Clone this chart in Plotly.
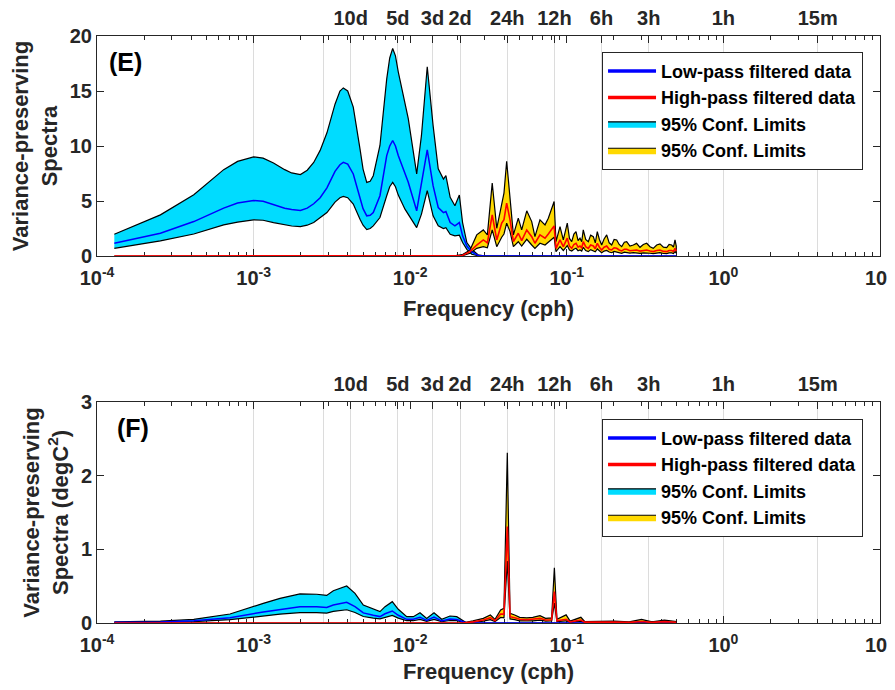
import plotly.graph_objects as go

# ---------------- Panel (E) ----------------
freq_lp_E = [1.29e-4, 2.54e-4, 4.15e-4, 6.44e-4, 7.9e-4, 1.0e-3, 1.15e-3, 1.34e-3, 1.58e-3, 1.75e-3,
             1.99e-3, 2.2e-3, 2.42e-3, 2.66e-3, 2.94e-3, 3.31e-3, 3.56e-3, 3.74e-3, 3.99e-3, 4.33e-3,
             4.78e-3, 5.0e-3, 5.28e-3, 5.55e-3, 5.81e-3, 6.41e-3, 7.08e-3, 7.4e-3, 7.73e-3, 8.05e-3,
             8.39e-3, 9.26e-3, 9.72e-3, 1.10e-2, 1.18e-2, 1.285e-2, 1.40e-2, 1.51e-2, 1.63e-2, 1.69e-2,
             1.80e-2, 1.93e-2, 2.06e-2, 2.16e-2, 2.30e-2, 2.47e-2, 2.72e-2, 3.0e-2, 0.5]
lp_up_E = [1.98, 3.74, 5.57, 7.85, 8.6, 9.01, 8.9, 8.46, 7.85, 7.55,
           7.40, 7.8, 8.50, 9.60, 11.2, 13.8, 15.0, 15.28, 15.0, 13.54,
           9.74, 7.9, 6.69, 6.8, 7.30, 10.05, 16.1, 18.0, 18.87, 18.2,
           16.74, 13.7, 12.48, 7.46, 10.96, 17.2, 11.87, 7.92, 7.00, 7.30,
           5.33, 4.57, 5.54, 3.04, 1.22, 0.61, 0.10, 0.0, 0.0]
lp_mid_E = [1.16, 2.07, 3.13, 4.35, 4.81, 5.05, 4.98, 4.66, 4.35, 4.22,
            4.14, 4.35, 4.75, 5.30, 6.20, 7.70, 8.3, 8.52, 8.35, 7.46,
            5.18, 4.3, 3.65, 3.7, 3.95, 5.48, 9.13, 10.0, 10.5, 10.0,
            9.13, 7.61, 6.70, 4.11, 6.70, 9.65, 6.39, 4.41, 3.95, 4.05,
            3.04, 2.74, 3.04, 1.83, 0.91, 0.37, 0.05, 0.0, 0.0]
lp_lo_E = [0.70, 1.37, 2.00, 2.83, 3.08, 3.29, 3.25, 3.04, 2.83, 2.73,
           2.68, 2.8, 3.05, 3.45, 3.95, 4.90, 5.3, 5.42, 5.3, 4.72,
           3.35, 2.8, 2.40, 2.5, 2.74, 3.50, 5.48, 6.3, 6.70, 6.3,
           5.54, 4.26, 3.81, 2.58, 3.81, 5.94, 3.65, 2.74, 2.49, 2.58,
           1.98, 1.83, 1.89, 1.22, 0.61, 0.16, 0.02, 0.0, 0.0]

freq_hp_E = [1.29e-4, 0.0185, 0.0215, 0.0241, 0.0266, 0.0293, 0.0311, 0.0334, 0.0357, 0.0384,
             0.0397, 0.0413, 0.0434, 0.0456, 0.0490, 0.0515, 0.0555, 0.0597, 0.0626, 0.0674,
             0.0726, 0.0762, 0.0830, 0.0853, 0.0905, 0.0950, 0.1007, 0.1040, 0.1075, 0.1110,
             0.1145, 0.1180, 0.1214, 0.1245, 0.1274, 0.1320, 0.1372, 0.1420, 0.1477, 0.1520,
             0.1566, 0.1615, 0.1670, 0.1730, 0.1798, 0.1865, 0.1935, 0.2005, 0.2083, 0.2160,
             0.2242, 0.2330, 0.2413, 0.2530, 0.2659, 0.2790, 0.2934, 0.3080, 0.3237, 0.3400,
             0.3566, 0.3750, 0.3936, 0.4140, 0.4344, 0.4500, 0.4675, 0.4800, 0.4908, 0.5]
hp_up_E = [0.0, 0.0, 0.12, 0.55, 1.92, 2.37, 1.92, 6.64, 2.52, 4.81,
           5.72, 8.61, 5.42, 1.92, 3.44, 2.37, 4.11, 3.13, 1.76, 3.29,
           2.83, 3.44, 4.96, 1.30, 2.68, 1.46, 2.99, 1.60, 1.30, 2.00,
           2.22, 1.40, 1.62, 1.30, 2.37, 1.50, 1.30, 1.90, 1.76, 1.20,
           2.22, 1.50, 1.00, 1.55, 1.92, 1.20, 1.00, 1.50, 1.46, 1.05,
           0.85, 1.25, 1.30, 0.90, 1.00, 1.15, 0.79, 1.05, 1.16, 0.85,
           0.70, 1.00, 1.10, 0.80, 0.76, 1.05, 1.00, 0.80, 1.46, 0.90]
hp_mid_E = [0.0, 0.0, 0.05, 0.40, 1.00, 1.46, 1.20, 3.74, 1.46, 2.99,
            3.30, 4.81, 3.29, 1.30, 2.07, 1.40, 2.37, 1.76, 1.16, 1.92,
            1.62, 2.00, 2.74, 0.70, 1.46, 0.85, 1.62, 0.90, 0.70, 1.05,
            1.16, 0.80, 0.90, 0.75, 1.30, 0.85, 0.70, 1.00, 0.91, 0.66,
            1.16, 0.80, 0.55, 0.80, 0.91, 0.62, 0.55, 0.75, 0.70, 0.55,
            0.46, 0.62, 0.61, 0.48, 0.55, 0.55, 0.45, 0.52, 0.55, 0.45,
            0.40, 0.50, 0.55, 0.42, 0.40, 0.50, 0.50, 0.42, 0.70, 0.45]
hp_lo_E = [0.0, 0.0, 0.02, 0.25, 0.70, 0.85, 0.75, 2.37, 0.85, 1.71,
           2.00, 2.99, 2.22, 0.85, 1.30, 0.90, 1.52, 1.00, 0.70, 1.16,
           1.00, 1.20, 1.71, 0.40, 0.85, 0.50, 0.95, 0.55, 0.46, 0.62,
           0.70, 0.48, 0.55, 0.45, 0.79, 0.50, 0.40, 0.58, 0.49, 0.38,
           0.64, 0.45, 0.30, 0.45, 0.50, 0.36, 0.30, 0.42, 0.40, 0.30,
           0.25, 0.35, 0.34, 0.27, 0.30, 0.30, 0.24, 0.29, 0.30, 0.25,
           0.21, 0.27, 0.30, 0.23, 0.22, 0.28, 0.28, 0.23, 0.40, 0.25]

# ---------------- Panel (F) ----------------
freq_lp_F = [1.29e-4, 2.54e-4, 4.15e-4, 7.07e-4, 1.153e-3, 1.474e-3, 1.978e-3, 2.529e-3, 2.929e-3, 3.228e-3,
             3.931e-3, 4.441e-3, 5.018e-3, 5.813e-3, 6.414e-3, 6.904e-3, 7.685e-3, 8.395e-3, 9.50e-3, 1.047e-2,
             1.155e-2, 1.274e-2, 1.419e-2, 1.589e-2, 1.795e-2, 1.982e-2, 2.133e-2, 2.296e-2, 0.5]
lp_up_F = [0.015, 0.025, 0.05, 0.122, 0.267, 0.335, 0.394, 0.39, 0.375, 0.439,
           0.502, 0.403, 0.244, 0.186, 0.154, 0.222, 0.29, 0.186, 0.086, 0.086,
           0.14, 0.063, 0.14, 0.05, 0.095, 0.086, 0.04, 0.0, 0.0]
lp_mid_F = [0.009, 0.015, 0.03, 0.07, 0.150, 0.186, 0.222, 0.22, 0.21, 0.244,
            0.281, 0.222, 0.137, 0.105, 0.087, 0.125, 0.163, 0.105, 0.05, 0.05,
            0.079, 0.036, 0.079, 0.028, 0.053, 0.048, 0.022, 0.0, 0.0]
lp_lo_F = [0.005, 0.009, 0.018, 0.045, 0.096, 0.12, 0.142, 0.14, 0.135, 0.157,
           0.18, 0.143, 0.088, 0.067, 0.056, 0.08, 0.104, 0.067, 0.031, 0.031,
           0.05, 0.023, 0.05, 0.018, 0.034, 0.031, 0.014, 0.0, 0.0]

freq_hp_F = [1.29e-4, 0.0215, 0.0252, 0.0293, 0.0325, 0.0348, 0.0378, 0.0397, 0.0417, 0.0434,
             0.0465, 0.0500, 0.0555, 0.0607, 0.0674, 0.0732, 0.0800, 0.0833, 0.0865, 0.0990,
             0.1050, 0.1230, 0.1300, 0.2000, 0.2500, 0.3000, 0.3500, 0.4200, 0.5]
hp_up_F = [0.0, 0.0, 0.03, 0.063, 0.109, 0.05, 0.176, 0.20, 2.31, 0.131,
           0.109, 0.077, 0.07, 0.077, 0.10, 0.063, 0.07, 0.75, 0.05, 0.11,
           0.025, 0.077, 0.02, 0.025, 0.015, 0.05, 0.015, 0.04, 0.02]
hp_mid_F = [0.0, 0.0, 0.015, 0.04, 0.072, 0.03, 0.122, 0.12, 1.31, 0.086,
            0.072, 0.05, 0.045, 0.05, 0.063, 0.04, 0.045, 0.425, 0.03, 0.05,
            0.015, 0.04, 0.012, 0.014, 0.008, 0.02, 0.008, 0.018, 0.01]
hp_lo_F = [0.0, 0.0, 0.008, 0.025, 0.045, 0.018, 0.075, 0.07, 0.84, 0.055,
           0.045, 0.03, 0.028, 0.03, 0.04, 0.025, 0.028, 0.27, 0.018, 0.03,
           0.009, 0.025, 0.007, 0.008, 0.005, 0.01, 0.005, 0.01, 0.006]

# ---------------- Axis ticks ----------------
bottom_tick_vals = [1e-4, 1e-3, 1e-2, 1e-1, 1e0, 1e1]
bottom_tick_text = ["10<sup>-4</sup>", "10<sup>-3</sup>", "10<sup>-2</sup>",
                    "10<sup>-1</sup>", "10<sup>0</sup>", "10<sup>1</sup>"]
minor_tick_vals = [m * 10.0 ** e for e in range(-4, 1) for m in range(2, 10)]
period_hours = [1000, 360, 240, 120, 72, 48, 24, 12, 6, 3, 1, 0.25]
period_labels = ["", "", "10d", "5d", "3d", "2d", "24h", "12h", "6h", "3h", "1h", "15m"]
period_freqs = [1.0 / h for h in period_hours]

yticks_E = [0, 5, 10, 15, 20]
yticks_F = [0, 1, 2, 3]

CYAN = "#00DCFF"
GOLD = "#FFD900"
AX = "#262626"
FONT = "Liberation Sans, Arial, sans-serif"


def band(freq, lo, up):
    return list(freq) + list(freq[::-1]), list(up) + list(lo[::-1])


fig = go.Figure()


def add_panel(xa, ya, xtop, leg, f_lp, up_lp, mid_lp, lo_lp, f_hp, up_hp, mid_hp, lo_hp):
    bx, by = band(f_lp, lo_lp, up_lp)
    fig.add_trace(go.Scatter(x=bx, y=by, fill="toself", fillcolor=CYAN, mode="lines",
                             line=dict(color="black", width=1.2), name="95% Conf. Limits",
                             legend=leg, legendrank=3, xaxis=xa, yaxis=ya, hoverinfo="skip"))
    bx, by = band(f_hp, lo_hp, up_hp)
    fig.add_trace(go.Scatter(x=bx, y=by, fill="toself", fillcolor=GOLD, mode="lines",
                             line=dict(color="black", width=1.2), name="95% Conf. Limits ",
                             legend=leg, legendrank=4, xaxis=xa, yaxis=ya, hoverinfo="skip"))
    fig.add_trace(go.Scatter(x=f_lp, y=mid_lp, mode="lines", line=dict(color="#0000FF", width=1.5),
                             showlegend=False, xaxis=xa, yaxis=ya, hoverinfo="skip"))
    fig.add_trace(go.Scatter(x=f_hp, y=mid_hp, mode="lines", line=dict(color="#FF0000", width=1.6),
                             showlegend=False, xaxis=xtop, yaxis=ya, hoverinfo="skip"))
    fig.add_trace(go.Scatter(x=[None], y=[None], mode="lines", line=dict(color="#0000FF", width=3.5),
                             name="Low-pass filtered data", legend=leg, legendrank=1,
                             xaxis=xa, yaxis=ya))
    fig.add_trace(go.Scatter(x=[None], y=[None], mode="lines", line=dict(color="#FF0000", width=3.5),
                             name="High-pass filtered data", legend=leg, legendrank=2,
                             xaxis=xa, yaxis=ya))


add_panel("x", "y", "x3", "legend", freq_lp_E, lp_up_E, lp_mid_E, lp_lo_E,
          freq_hp_E, hp_up_E, hp_mid_E, hp_lo_E)
add_panel("x2", "y2", "x4", "legend2", freq_lp_F, lp_up_F, lp_mid_F, lp_lo_F,
          freq_hp_F, hp_up_F, hp_mid_F, hp_lo_F)

tickfont = dict(family=FONT, size=20, color=AX, weight="bold")
titlefont = dict(family=FONT, size=22, color=AX, weight="bold")


def bottom_axis(anchor, standoff):
    return dict(type="log", range=[-4, 1], anchor=anchor, domain=[0, 1], automargin=False,
                tickmode="array", tickvals=bottom_tick_vals, ticktext=bottom_tick_text,
                ticks="inside", ticklen=7, tickwidth=1, tickcolor=AX,
                minor=dict(ticks="inside", ticklen=4, tickcolor=AX, tickvals=minor_tick_vals,
                           showgrid=False),
                showline=True, linecolor=AX, linewidth=1, mirror="ticks",
                layer="below traces",
                showgrid=False, zeroline=False, tickfont=tickfont,
                ticklabelstandoff=4, ticklabeloverflow="allow",
                title=dict(text="Frequency (cph)", font=titlefont, standoff=standoff))


def top_axis(over, anchor):
    return dict(type="log", range=[-4, 1], overlaying=over, anchor=anchor, side="top",
                automargin=False,
                tickmode="array", tickvals=period_freqs, ticktext=period_labels,
                ticks="inside", ticklen=7, tickwidth=1, tickcolor=AX,
                showline=False, showgrid=True, gridcolor="#DCDCDC", gridwidth=1,
                zeroline=False, tickfont=tickfont, ticklabelstandoff=6,
                ticklabeloverflow="allow")


def left_axis(anchor, dom, rng, vals, title):
    return dict(range=rng, anchor=anchor, domain=dom, automargin=False,
                tickmode="array", tickvals=vals,
                ticks="inside", ticklen=7, tickwidth=1, tickcolor=AX,
                showline=True, linecolor=AX, linewidth=1, mirror="ticks",
                showgrid=False, zeroline=False, tickfont=tickfont,
                title=dict(text=title, font=titlefont, standoff=6))


legend_font = dict(family=FONT, size=18, color="black", weight="bold")

fig.update_layout(
    width=887, height=682,
    margin=dict(l=89, r=15, t=28, b=67, autoexpand=False),
    paper_bgcolor="white", plot_bgcolor="white",
    font=dict(family=FONT, color=AX),
    xaxis=bottom_axis("y", 12),
    xaxis2=bottom_axis("y2", 8),
    xaxis3=top_axis("x", "y"),
    xaxis4=top_axis("x2", "y2"),
    yaxis=left_axis("x", [0.6252, 1.0], [0, 20], yticks_E, "Variance-preserving<br>Spectra"),
    yaxis2=left_axis("x2", [0.0, 0.3765], [0, 3], yticks_F,
                     "Variance-preserving<br>Spectra (degC<sup>2</sup>)"),
    legend=dict(x=0.645, y=0.973, xanchor="left", yanchor="top", bgcolor="white",
                bordercolor=AX, borderwidth=1, tracegroupgap=0, itemwidth=48,
                font=legend_font),
    legend2=dict(x=0.645, y=0.3478, xanchor="left", yanchor="top", bgcolor="white",
                 bordercolor=AX, borderwidth=1, tracegroupgap=0, itemwidth=48,
                 font=legend_font),
    annotations=[
        dict(text="(E)", xref="paper", yref="paper", x=0.0128, y=0.9557, xanchor="left",
             yanchor="middle", showarrow=False,
             font=dict(family=FONT, size=25, color="black", weight="bold")),
        dict(text="(F)", xref="paper", yref="paper", x=0.0230, y=0.3322, xanchor="left",
             yanchor="middle", showarrow=False,
             font=dict(family=FONT, size=25, color="black", weight="bold")),
    ],
    showlegend=True,
)

fig.write_html("out.html")
